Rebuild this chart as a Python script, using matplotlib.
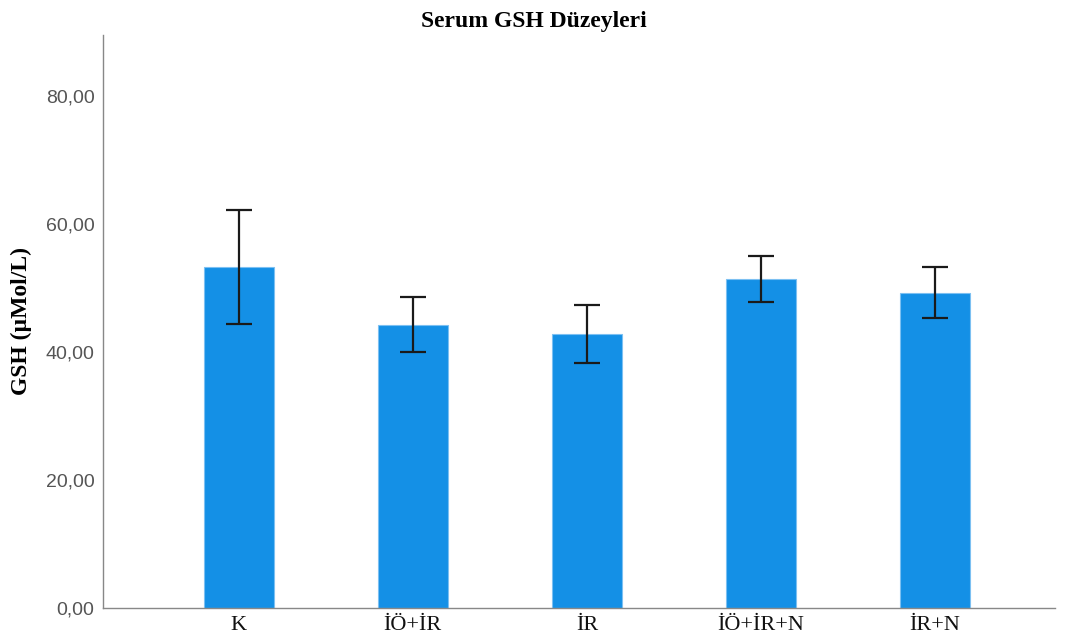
import matplotlib
matplotlib.use("Agg")
import matplotlib.pyplot as plt
from matplotlib.ticker import FuncFormatter, MultipleLocator

# gruplar ve ortalama ± hata değerleri (µMol/L)
groups = ["K", "İÖ+İR", "İR", "İÖ+İR+N", "İR+N"]
gsh_mean = [53.3, 44.3, 42.8, 51.5, 49.3]
gsh_err = [8.9, 4.3, 4.5, 3.6, 4.0]

fig = plt.figure(figsize=(10.68, 6.44), dpi=100)
ax = fig.add_axes([0.0964, 0.0559, 0.8916, 0.8898])

x = range(len(groups))
ax.bar(x, gsh_mean, width=0.4, color="#1490E6", edgecolor="#7CC0F2",
       linewidth=0.8, zorder=2)
ax.errorbar(x, gsh_mean, yerr=gsh_err, fmt="none", ecolor="#1a1a1a",
            elinewidth=1.6, capsize=9.7, capthick=1.6, zorder=3)

ax.set_xlim(-0.78, 4.69)
ax.set_ylim(0, 89.6)
ax.yaxis.set_major_locator(MultipleLocator(20))
ax.yaxis.set_major_formatter(FuncFormatter(lambda v, p: f"{v:.2f}".replace(".", ",")))
ax.set_xticks(list(x))
ax.set_xticklabels(groups)

for lbl in ax.get_yticklabels():
    lbl.set_family(["Liberation Sans", "DejaVu Sans"])
    lbl.set_fontsize(14)
    lbl.set_color("#555555")
for lbl in ax.get_xticklabels():
    lbl.set_family(["Liberation Serif", "DejaVu Serif"])
    lbl.set_fontsize(16)
    lbl.set_color("#111111")

ax.tick_params(axis="y", length=0, pad=6)
ax.tick_params(axis="x", length=0, pad=6)
for side in ["top", "right"]:
    ax.spines[side].set_visible(False)
for side in ["left", "bottom"]:
    ax.spines[side].set_color("#888888")
    ax.spines[side].set_linewidth(1.0)

serif = ["Liberation Serif", "DejaVu Serif"]
# başlık figürün ortasında
ax.set_title("Serum GSH Düzeyleri", family=serif, fontsize=17,
             fontweight="bold", pad=6, x=0.453)
ax.set_ylabel("GSH (µMol/L)", family=serif, fontsize=17,
              fontweight="bold", labelpad=10)

fig.savefig("out.png", dpi=100, facecolor="white")
